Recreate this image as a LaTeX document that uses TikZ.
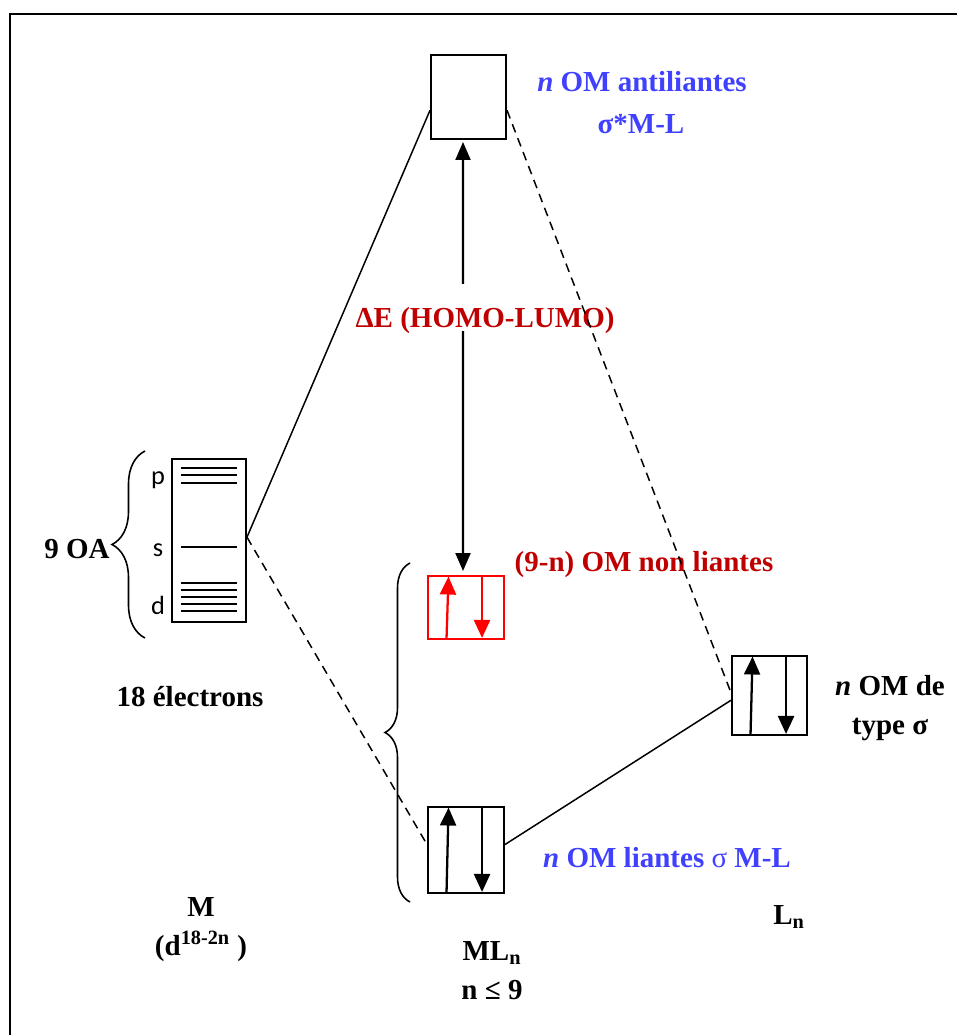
\documentclass[tikz,border=0pt]{standalone}
\usepackage{fontspec}
\setmainfont{Liberation Serif}
\newfontfamily\calfont{Carlito}
\usetikzlibrary{positioning,arrows.meta,decorations.pathreplacing}
\definecolor{omblue}{RGB}{64,64,255}
\definecolor{omred}{RGB}{192,0,0}
\definecolor{spinred}{RGB}{255,0,0}
% two opposite spins inside a box
\newcommand{\spinpair}[2]{%
\draw[#2,spin] ([xshift=3.9mm,yshift=0.4mm]#1.south west) -- ([xshift=4.3mm,yshift=-0.3mm]#1.north west);
\draw[#2,spin] ([xshift=11mm,yshift=-0.3mm]#1.north west) -- ([xshift=11mm,yshift=0.4mm]#1.south west);}

\begin{document}
\begin{tikzpicture}[x=0.2mm,y=-0.2mm,
  lbl/.style={font=\fontsize{16.5}{22}\selectfont\bfseries,align=center,inner sep=0pt},
  obox/.style={draw,line width=1.1pt,inner sep=0pt},
  spin/.style={line width=1.3pt,-{Triangle[length=3.6mm,width=3.2mm]}},
  link/.style={line width=0.85pt},
  dlink/.style={line width=0.85pt,dash pattern=on 5pt off 3.5pt},
  brc/.style={decorate,line width=0.9pt,decoration={brace,amplitude=#1}}]
\useasboundingbox (0,0) rectangle (956,1035);
\draw[line width=1.4pt] (10,1050) -- (10,14) -- (970,14);

% metal M
\node[obox,minimum width=14.8mm,minimum height=32.6mm] (ao) at (209,540.5) {};
\foreach \y in {468,475,483,547,583,590,597,604,611}
  \draw[line width=0.8pt] (181,\y) -- (237,\y);
\node[font=\calfont\fontsize{15}{18}\selectfont] (p) at (158,480) {p};
\node[font=\calfont\fontsize{15}{18}\selectfont] (s) at (158,550) {s};
\node[font=\calfont\fontsize{15}{18}\selectfont] (d) at (158,605) {d};
\draw[brc=6.6mm] (145,638) -- (145,451);
\node[lbl] (oa) at (77,549) {9 OA};
\node[lbl] (elec) at (190,697) {18 électrons};
\node[lbl] (m) at (201,907) {M};
\node[lbl] (dconf) at (201,946) {(d\textsuperscript{18-2n} )};

% complex ML_n
\node[obox,minimum width=15mm,minimum height=16.8mm] (anti) at (468.5,97) {};
\node[lbl,text=omblue] (antilbl) at (642,82) {\textit{n} OM antiliantes};
\node[lbl,text=omblue] (antisig) at (641,124) {σ*M-L};
\node[obox,draw=spinred,minimum width=15.2mm,minimum height=12.6mm] (nonb) at (466,607.5) {};
\spinpair{nonb}{spinred}
\node[lbl,text=omred] (nonblbl) at (644,565) {(9-n) OM non liantes};
\node[obox,minimum width=15.2mm,minimum height=17.2mm] (bond) at (466,850) {};
\spinpair{bond}{black}
\node[lbl,text=omblue] (bondlbl) at (667,858) {\textit{n} OM liantes {\mdseries σ} M-L};
\draw[brc=5mm] (410,902) -- (410,563);
\node[lbl] (mln) at (492,953) {ML\textsubscript{n}};
\node[lbl] (nle) at (492,990) {n ≤ 9};

% HOMO-LUMO gap
\draw[line width=1.2pt,{Triangle[length=3.6mm,width=3mm]}-{Triangle[length=3.6mm,width=3mm]},shorten <=0.4mm,shorten >=0.8mm]
  ([xshift=-1.1mm]anti.south) -- ([xshift=-0.6mm]nonb.north);
\node[lbl,text=omred,fill=white,anchor=base,text height=23pt,text depth=1pt,inner ysep=1.5pt,inner xsep=1pt] (gap) at (485,327) {ΔE (HOMO-LUMO)};

% ligands L_n
\node[obox,minimum width=15mm,minimum height=15.8mm] (lig) at (769.5,695.5) {};
\spinpair{lig}{black}
\node[lbl] (liglbl) at (890,708) {\textit{n} OM de\\type σ};
\node[lbl] (ln) at (789,917) {L\textsubscript{n}};

% correlation lines
\draw[link] (ao.5) -- (anti.199);
\draw[dlink] (ao.5) -- (bond.172);
\draw[dlink] (anti.341) -- (lig.176);
\draw[link] (lig.187) -- (bond.8);
\end{tikzpicture}
\end{document}
